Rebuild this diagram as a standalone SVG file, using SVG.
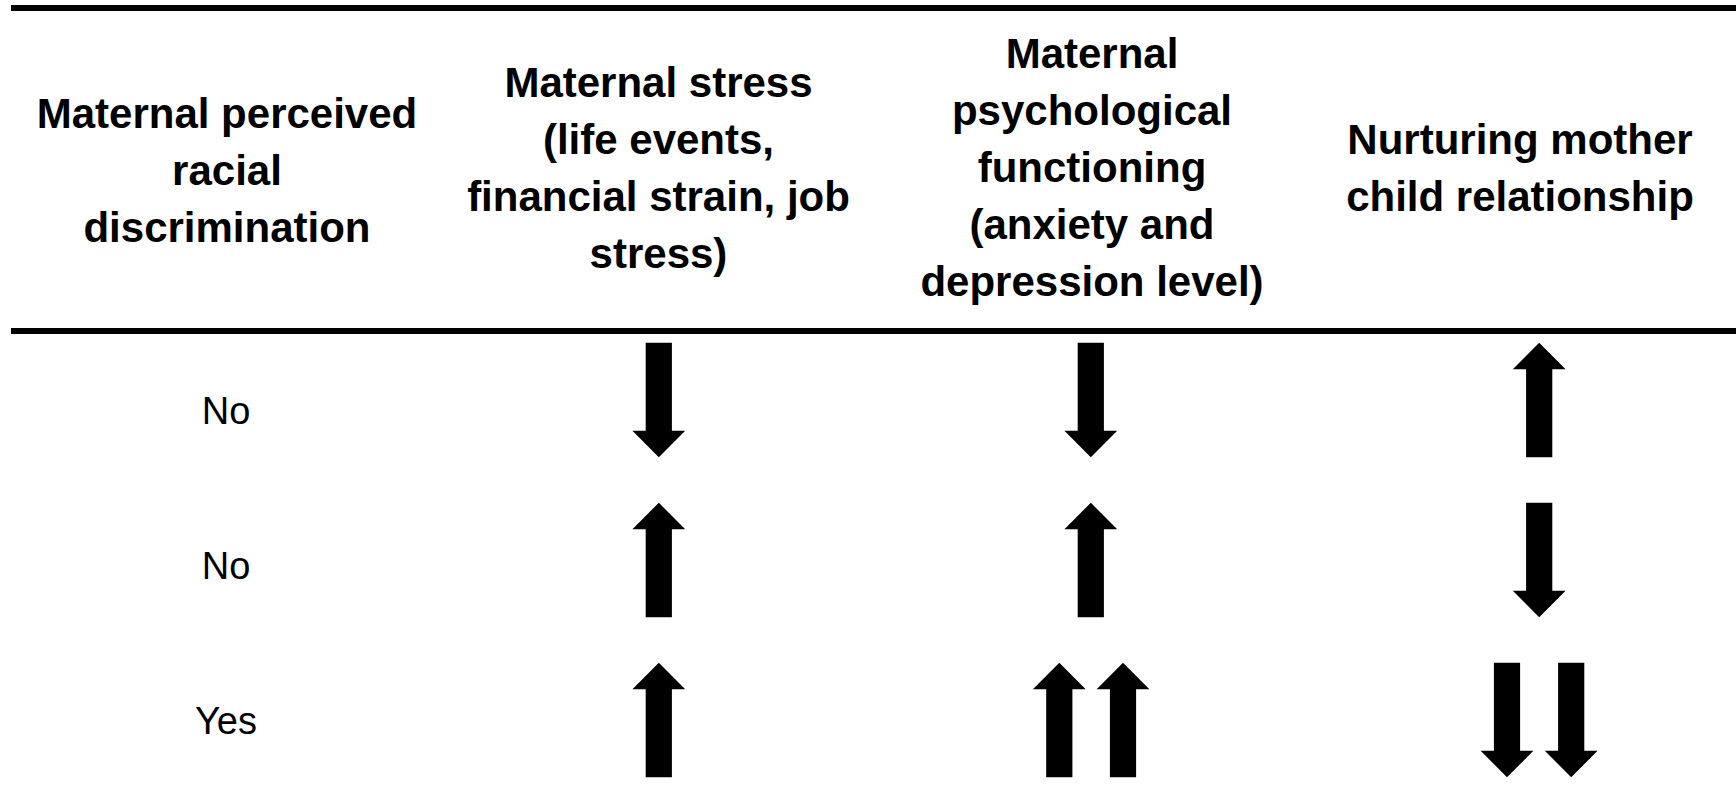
<svg xmlns="http://www.w3.org/2000/svg" xmlns:xlink="http://www.w3.org/1999/xlink" width="1736" height="789" viewBox="0 0 1736 789">
  <style>
    .hdr { font-family: "Liberation Sans", Arial, sans-serif; font-weight: bold; font-size: 42px; fill: #000; text-anchor: middle; }
    .lbl { font-family: "Liberation Sans", Arial, sans-serif; font-size: 38px; fill: #000; text-anchor: middle; }
    .rule { fill: #000; }
    .arr { fill: #000; }
  </style>
  <defs>
    <!-- block arrows, anchored at top-centre; 114.6 tall -->
    <path id="dn" class="arr" d="M-13.1,0 H13.1 V88 H26.4 L0,114.6 L-26.4,88 H-13.1 Z"/>
    <path id="up" class="arr" d="M0,0 L26.4,26.6 H13.1 V114.6 H-13.1 V26.6 H-26.4 Z"/>
  </defs>

  <rect width="1736" height="789" fill="#fff"/>

  <!-- table rules -->
  <g id="rules">
    <rect class="rule" x="11" y="5" width="1725" height="6"/>
    <rect class="rule" x="11" y="328" width="1725" height="6"/>
  </g>

  <!-- column headings -->
  <g id="head-discrimination">
    <text class="hdr" x="227" y="128">Maternal perceived</text>
    <text class="hdr" x="227" y="185">racial</text>
    <text class="hdr" x="227" y="242">discrimination</text>
  </g>
  <g id="head-stress">
    <text class="hdr" x="658.5" y="97">Maternal stress</text>
    <text class="hdr" x="658.5" y="154">(life events,</text>
    <text class="hdr" x="658.5" y="211">financial strain, job</text>
    <text class="hdr" x="658.5" y="268">stress)</text>
  </g>
  <g id="head-psych">
    <text class="hdr" x="1092" y="68">Maternal</text>
    <text class="hdr" x="1092" y="125">psychological</text>
    <text class="hdr" x="1092" y="182">functioning</text>
    <text class="hdr" x="1092" y="239">(anxiety and</text>
    <text class="hdr" x="1092" y="296">depression level)</text>
  </g>
  <g id="head-nurturing">
    <text class="hdr" x="1520" y="154">Nurturing mother</text>
    <text class="hdr" x="1520" y="211">child relationship</text>
  </g>

  <!-- row labels -->
  <g id="row-labels">
    <text class="lbl" x="226" y="424">No</text>
    <text class="lbl" x="226" y="579">No</text>
    <text class="lbl" x="226" y="734">Yes</text>
  </g>

  <!-- direction arrows -->
  <g id="arrows">
    <g id="row1">
      <use xlink:href="#dn" x="658.8" y="342.7"/>
      <use xlink:href="#dn" x="1090.8" y="342.7"/>
      <use xlink:href="#up" x="1539.2" y="342.7"/>
    </g>
    <g id="row2">
      <use xlink:href="#up" x="658.8" y="502.7"/>
      <use xlink:href="#up" x="1090.8" y="502.7"/>
      <use xlink:href="#dn" x="1539.2" y="502.7"/>
    </g>
    <g id="row3">
      <use xlink:href="#up" x="658.8" y="662.7"/>
      <use xlink:href="#up" x="1059.3" y="662.7"/>
      <use xlink:href="#up" x="1123" y="662.7"/>
      <use xlink:href="#dn" x="1507" y="662.7"/>
      <use xlink:href="#dn" x="1571.2" y="662.7"/>
    </g>
  </g>
</svg>
